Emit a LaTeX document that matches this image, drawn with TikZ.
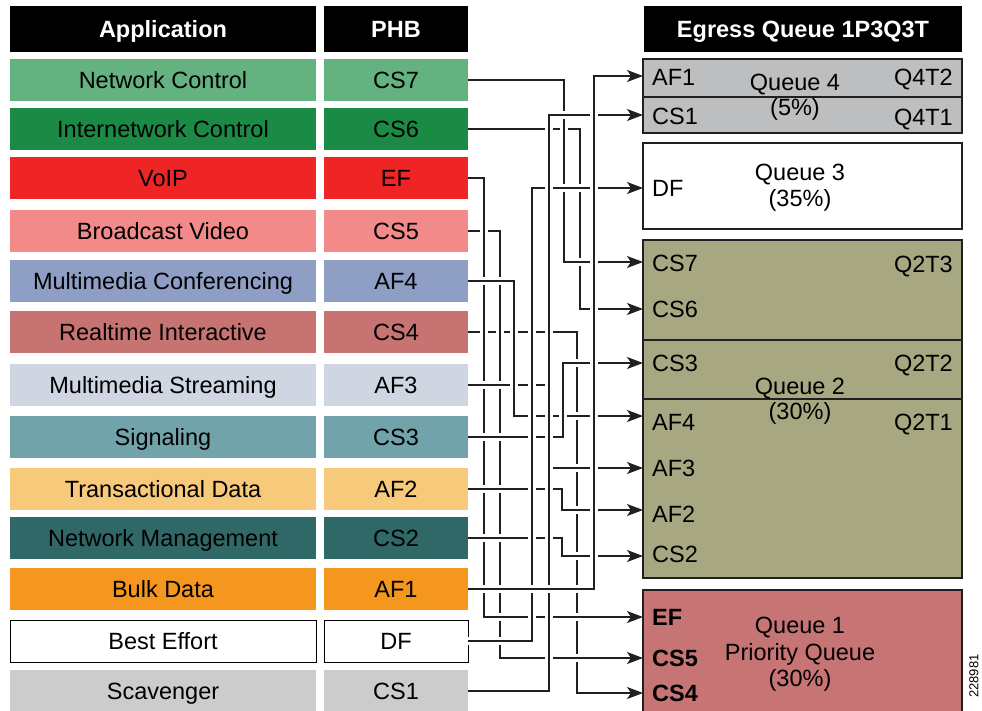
\documentclass[tikz,border=0pt]{standalone}
\usepackage{fontspec}
\setmainfont{Liberation Sans}
\usetikzlibrary{arrows.meta}
\definecolor{cNC}{HTML}{64B27F}
\definecolor{cIC}{HTML}{1A8A45}
\definecolor{cVO}{HTML}{EE2524}
\definecolor{cBV}{HTML}{F28A8A}
\definecolor{cMC}{HTML}{8F9EC4}
\definecolor{cRI}{HTML}{C77372}
\definecolor{cMS}{HTML}{D0D5E2}
\definecolor{cSG}{HTML}{72A3AA}
\definecolor{cTD}{HTML}{F7C97A}
\definecolor{cNM}{HTML}{2F6866}
\definecolor{cBD}{HTML}{F5961F}
\definecolor{cSC}{HTML}{CCCCCC}
\definecolor{cQF}{HTML}{BCBEC0}
\definecolor{cQT}{HTML}{A7A882}
\definecolor{cQO}{HTML}{C77474}
\definecolor{ln}{HTML}{231F20}
\tikzset{
  bigfont/.style={font=\fontsize{23.5}{26}\selectfont, text height=16.8pt, text depth=0pt},
  box/.style={bigfont, inner sep=0pt, outer sep=0pt, minimum height=42pt, text=black},
  appbox/.style={box, minimum width=306pt},
  phbbox/.style={box, minimum width=144pt},
  head/.style={fill=black, text=white, inner sep=0pt, outer sep=0pt, minimum height=46pt,
    font=\fontsize{23.5}{26}\selectfont\bfseries, text height=16.8pt, text depth=0pt},
  conn/.style={draw=ln, line width=1.6pt, line join=miter,
    -{Stealth[length=16pt,width=12pt,inset=4pt]},
    preaction={draw=white, line width=8pt, -}},
  qbox/.style={draw=ln, line width=1.5pt, inner sep=0pt, outer sep=0pt, minimum width=319pt},
  qdiv/.style={draw=ln, line width=1.5pt},
  qlab/.style={bigfont, inner sep=0pt, anchor=west},
  qrlab/.style={bigfont, inner sep=0pt, anchor=east},
  qtxt/.style={bigfont, inner sep=0pt, anchor=center},
  qbold/.style={font=\fontsize{23.5}{26}\selectfont\bfseries, text height=16.8pt, text depth=0pt,
    inner sep=0pt, anchor=west},
}
\begin{document}
\begin{tikzpicture}[x=1pt,y=-1pt]
\useasboundingbox (0,0) rectangle (982,710);
\clip (0,0) rectangle (982,710);
% headers
\node[head, minimum width=306pt] (hA) at (163,29) {Application};
\node[head, minimum width=144pt] (hP) at (396,29) {PHB};
\node[head, minimum width=318pt] (hE) at (803,29) {Egress Queue 1P3Q3T};
% rows
\node[appbox, fill=cNC] (a1) at (163,80) {Network Control};
\node[phbbox, fill=cNC] (p1) at (396,80) {CS7};
\node[appbox, fill=cIC] (a2) at (163,129) {Internetwork Control};
\node[phbbox, fill=cIC] (p2) at (396,129) {CS6};
\node[appbox, fill=cVO] (a3) at (163,178) {VoIP};
\node[phbbox, fill=cVO] (p3) at (396,178) {EF};
\node[appbox, fill=cBV] (a4) at (163,231) {Broadcast Video};
\node[phbbox, fill=cBV] (p4) at (396,231) {CS5};
\node[appbox, fill=cMC] (a5) at (163,281) {Multimedia Conferencing};
\node[phbbox, fill=cMC] (p5) at (396,281) {AF4};
\node[appbox, fill=cRI] (a6) at (163,332) {Realtime Interactive};
\node[phbbox, fill=cRI] (p6) at (396,332) {CS4};
\node[appbox, fill=cMS] (a7) at (163,385) {Multimedia Streaming};
\node[phbbox, fill=cMS] (p7) at (396,385) {AF3};
\node[appbox, fill=cSG] (a8) at (163,437) {Signaling};
\node[phbbox, fill=cSG] (p8) at (396,437) {CS3};
\node[appbox, fill=cTD] (a9) at (163,489) {Transactional Data};
\node[phbbox, fill=cTD] (p9) at (396,489) {AF2};
\node[appbox, fill=cNM] (a10) at (163,538) {Network Management};
\node[phbbox, fill=cNM] (p10) at (396,538) {CS2};
\node[appbox, fill=cBD] (a11) at (163,589) {Bulk Data};
\node[phbbox, fill=cBD] (p11) at (396,589) {AF1};
\node[appbox, fill=white, draw=black, line width=1pt] (a12) at (163,641) {Best Effort};
\node[phbbox, fill=white, draw=black, line width=1pt] (p12) at (396,641) {DF};
\node[appbox, fill=cSC] (a13) at (163,691) {Scavenger};
\node[phbbox, fill=cSC] (p13) at (396,691) {CS1};
% arrow targets
\coordinate (tAFa) at (643,76);
\coordinate (tCSa) at (643,115);
\coordinate (tDF) at (643,188);
\coordinate (tCSg) at (643,262);
\coordinate (tCSf) at (643,309);
\coordinate (tCSc) at (643,363);
\coordinate (tAFd) at (643,416);
\coordinate (tAFc) at (643,468);
\coordinate (tAFb) at (643,510);
\coordinate (tCSb) at (643,556);
\coordinate (tEF) at (643,617);
\coordinate (tCSe) at (643,658);
\coordinate (tCSd) at (643,693);
% connectors (drawing order sets the crossing gaps)
\draw[conn] (p6.east) -| (577,693) -- (tCSd);
\draw[conn] (p4.east) -| (500,658) -- (tCSe);
\draw[conn] (p3.east) -| (484,617) -- (tEF);
\draw[conn] (p7.east) -| (549,468) -- (tAFc);
\draw[conn] (p5.east) -| (514,416) -- (tAFd);
\draw[conn] (p8.east) -| (563,363) -- (tCSc);
\draw[conn] (p9.east) -| (562,510) -- (tAFb);
\draw[conn] (p10.east) -| (562,556) -- (tCSb);
\draw[conn] (p2.east) -| (580,309) -- (tCSf);
\draw[conn] (p1.east) -| (564,262) -- (tCSg);
\draw[conn] (p12.east) -| (532,188) -- (tDF);
\draw[conn] (p13.east) -| (549,115) -- (tCSa);
\draw[conn] (p11.east) -| (594,76) -- (tAFa);
% queue 4
\node[qbox, fill=cQF, minimum height=74pt] (q4) at (802.5,96) {};
\draw[qdiv] (q4.west |- 0,97) -- (q4.east |- 0,97);
\node[qlab] (q4a) at (652,77) {AF1};
\node[qlab] (q4b) at (652,116) {CS1};
\node[qrlab] (q4c) at (953,77) {Q4T2};
\node[qrlab] (q4d) at (953,117) {Q4T1};
\node[qtxt] (q4e) at (795,82) {Queue 4};
\node[qtxt] (q4f) at (795,107) {(5\%)};
% queue 3
\node[qbox, fill=white, minimum height=86pt] (q3) at (802.5,186) {};
\node[qlab] (q3a) at (652,188) {DF};
\node[qtxt] (q3b) at (800,172) {Queue 3};
\node[qtxt] (q3c) at (800,198) {(35\%)};
% queue 2
\node[qbox, fill=cQT, minimum height=338pt] (q2) at (802.5,409) {};
\draw[qdiv] (q2.west |- 0,340) -- (q2.east |- 0,340);
\draw[qdiv] (q2.west |- 0,399) -- (q2.east |- 0,399);
\node[qlab] (q2a) at (652,263) {CS7};
\node[qlab] (q2b) at (652,309) {CS6};
\node[qlab] (q2c) at (652,363) {CS3};
\node[qlab] (q2d) at (652,422) {AF4};
\node[qlab] (q2e) at (652,468) {AF3};
\node[qlab] (q2f) at (652,514) {AF2};
\node[qlab] (q2g) at (652,554) {CS2};
\node[qrlab] (q2h) at (953,264) {Q2T3};
\node[qrlab] (q2i) at (953,363) {Q2T2};
\node[qrlab] (q2j) at (953,422) {Q2T1};
\node[qtxt] (q2k) at (800,386) {Queue 2};
\node[qtxt] (q2l) at (800,411) {(30\%)};
% queue 1
\node[qbox, fill=cQO, minimum height=140pt] (q1) at (802.5,660) {};
\node[qbold] (q1a) at (652,617) {EF};
\node[qbold] (q1b) at (652,658) {CS5};
\node[qbold] (q1c) at (652,693) {CS4};
\node[qtxt] (q1d) at (800,625) {Queue 1};
\node[qtxt] (q1e) at (800,652) {Priority Queue};
\node[qtxt] (q1f) at (800,678) {(30\%)};
% figure id
\node[font=\fontsize{13}{14}\selectfont, rotate=90, inner sep=0pt] (fid) at (974,676) {228981};
\end{tikzpicture}
\end{document}
